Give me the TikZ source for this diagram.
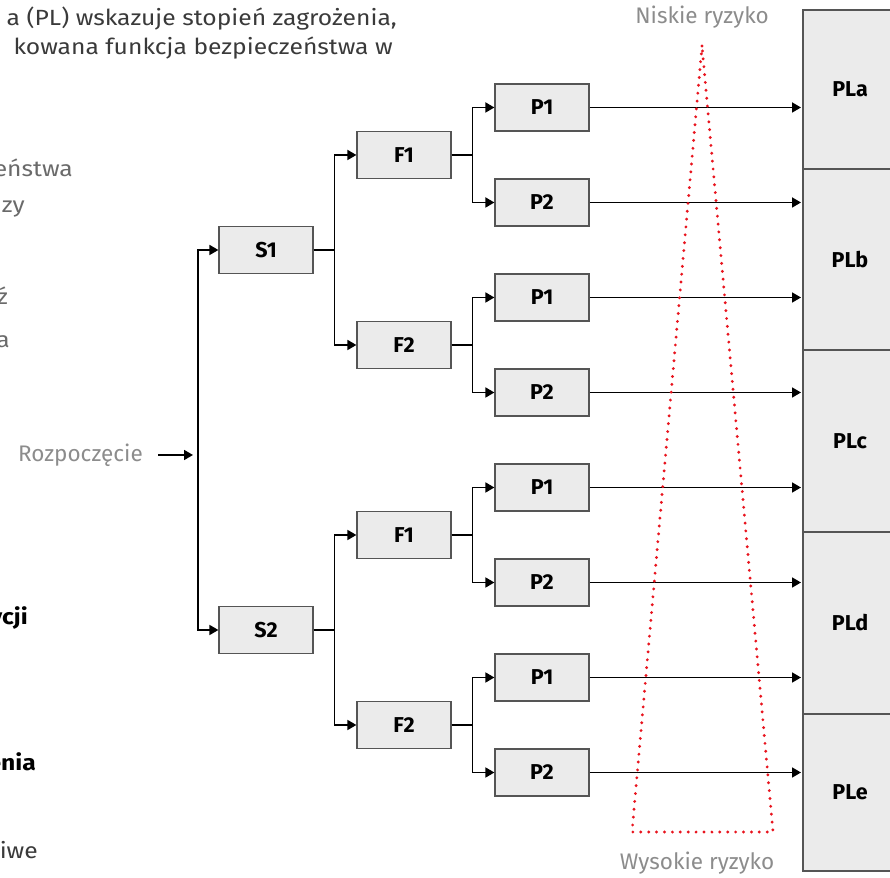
\documentclass[tikz,border=0pt]{standalone}
\usepackage{fontspec}
\setmainfont{Fira Sans}
\newfontfamily\widefont[FakeStretch=1.12]{Fira Sans}
\usepackage{xcolor}
\usepackage{tikz}
\usetikzlibrary{arrows.meta, positioning}
\definecolor{boxfill}{HTML}{EBEBEB}
\definecolor{boxline}{HTML}{555555}
\definecolor{labelgrey}{HTML}{8C8C8C}
\definecolor{textgrey}{HTML}{6A6A6A}
\definecolor{textdark}{HTML}{3A3A3A}
\definecolor{riskred}{HTML}{E8141E}
\tikzstyle{arrow} = [line width=1.7pt, -{Triangle[length=9pt,width=10pt]}]
\tikzstyle{box} = [rectangle, draw=boxline, fill=boxfill, line width=1.2pt, minimum width=94pt, minimum height=47pt, inner sep=0pt, font=\fontsize{21.5}{25}\selectfont\bfseries]
\tikzstyle{plbox} = [box, outer sep=0pt, anchor=north]
\tikzstyle{greytext} = [inner sep=0pt, text=labelgrey, font=\fontsize{22.5}{26}\selectfont]
\tikzstyle{introtext} = [inner sep=0pt, anchor=base east, text=textdark, font=\widefont\fontsize{22}{26}\selectfont]

\begin{document}
\begin{tikzpicture}[
			x=1pt, y=1pt,
			grow'=right,
			every child node/.style={box},
			edge from parent/.style={draw, arrow},
			level 1/.style={level distance=68pt, sibling distance=380pt,
				edge from parent path={(\tikzparentnode) |- (\tikzchildnode.west)}},
			level 2/.style={level distance=138pt, sibling distance=190pt,
				edge from parent path={(\tikzparentnode.east) -- ++(21pt,0) |- (\tikzchildnode.west)}},
			level 3/.style={level distance=138pt, sibling distance=95pt}
			]
			\useasboundingbox (0,0) rectangle (890,877);
			
			% Decision tree S -> F -> P
			\coordinate (root) at (198,437)
			child {node (s1) {S1}
				child {node (s1f1) {F1}
					child {node (s1f1p1) {P1}}
					child {node (s1f1p2) {P2}}
				}
				child {node (s1f2) {F2}
					child {node (s1f2p1) {P1}}
					child {node (s1f2p2) {P2}}
				}
			}
			child {node (s2) {S2}
				child {node (s2f1) {F1}
					child {node (s2f1p1) {P1}}
					child {node (s2f1p2) {P2}}
				}
				child {node (s2f2) {F2}
					child {node (s2f2p1) {P1}}
					child {node (s2f2p2) {P2}}
				}
			};
			
			% Performance level column
			\node[plbox, minimum height=159pt] (pla) at (850,867) {PLa};
			\node[plbox, minimum height=181pt, below=0pt of pla] (plb) {PLb};
			\node[plbox, minimum height=182pt, below=0pt of plb] (plc) {PLc};
			\node[plbox, minimum height=182pt, below=0pt of plc] (pld) {PLd};
			\node[plbox, minimum height=157pt, below=0pt of pld] (ple) {PLe};
			
			% P -> PL arrows
			\foreach \p in {s1f1p1, s1f1p2, s1f2p1, s1f2p2, s2f1p1, s2f1p2, s2f2p1, s2f2p2}
			\draw[arrow, shorten >=2pt] (\p.east) -- (\p.east -| pla.west);
			
			% Start
			\node[greytext, anchor=east] (start) at (143,422) {Rozpoczęcie};
			\coordinate (startin) at (193,422);
			\draw[arrow, shorten <=15pt] (start) -- (startin);
			
			% Risk wedge
			\node[greytext] (lowrisk) at (702,860) {Niskie ryzyko};
			\node[greytext] (highrisk) at (697,14) {Wysokie ryzyko};
			\draw[riskred, line width=3.2pt, line cap=round, dash pattern=on 0pt off 7.9pt]
				(702,831) -- (632,45) -- (773,45) -- cycle;
			
			% Cut-off text on the left
			\node[introtext] (intro1) at (397,851) {a (PL) wskazuje stopień zagrożenia,};
			\node[introtext] (intro2) at (393,822) {kowana funkcja bezpieczeństwa w};
			\node[introtext, text=textgrey] (note1) at (73,700) {eństwa};
			\node[introtext, text=textgrey] (note2) at (25,664) {zy};
			\node[introtext, text=textgrey] (note3) at (8,572) {ź};
			\node[introtext, text=textgrey] (note4) at (10,529) {a};
			\node[introtext, text=black, font=\widefont\fontsize{22}{26}\selectfont\bfseries] (head1) at (28,252) {ycji};
			\node[introtext, text=black, font=\widefont\fontsize{22}{26}\selectfont\bfseries] (head2) at (36,106) {enia};
			\node[introtext] (note5) at (38,19) {iwe};
			
		\end{tikzpicture}
\end{document}
